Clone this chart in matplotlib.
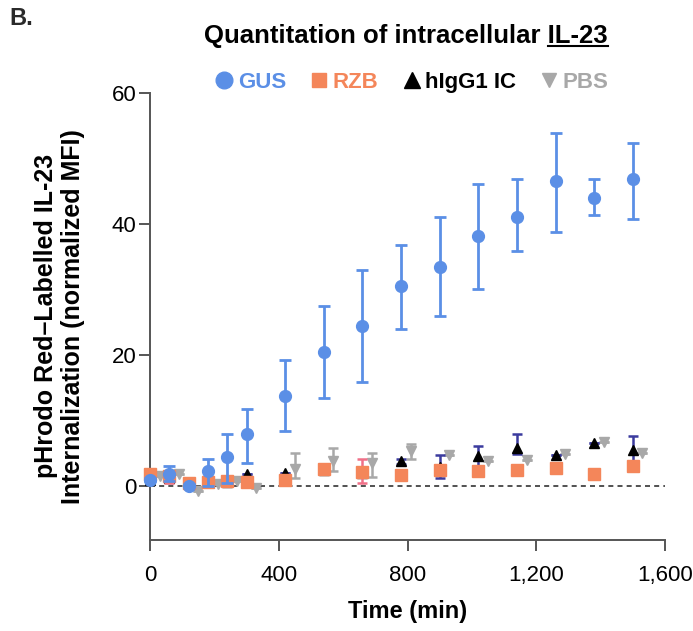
import matplotlib
matplotlib.use('Agg')
import matplotlib.pyplot as plt
from matplotlib.lines import Line2D
from matplotlib.ticker import FuncFormatter
import numpy as np

plt.rcParams['font.family'] = ['Liberation Sans', 'DejaVu Sans']

# time points (min)
time_main = [0, 60, 120, 180, 240, 300, 420, 540, 660, 780, 900, 1020, 1140, 1260, 1380, 1500]
time_pbs = [30, 90, 150, 210, 270, 330, 450, 570, 690, 810, 930, 1050, 1170, 1290, 1410, 1530]

# GUS
gus = [1.0, 1.8, 0.1, 2.3, 4.4, 7.9, 13.7, 20.5, 24.5, 30.5, 33.5, 38.2, 41.1, 46.5, 44.0, 46.8]
gus_hi = [1.2, 3.1, 0.3, 4.2, 7.9, 11.8, 19.2, 27.5, 33.0, 36.8, 41.0, 46.1, 46.8, 53.9, 46.8, 52.3]
gus_lo = [0.8, 0.8, 0.0, 0.0, 0.5, 3.6, 8.4, 13.4, 15.9, 24.0, 26.0, 30.0, 35.8, 38.8, 41.3, 40.7]

# RZB
rzb = [1.8, 1.6, 0.5, 0.6, 0.8, 0.6, 0.9, 2.7, 2.2, 1.7, 2.4, 2.3, 2.5, 2.8, 1.8, 3.1]
rzb_hi = [1.8, 2.0, 0.5, 0.6, 0.8, 0.6, 0.9, 2.7, 4.2, 1.7, 2.4, 2.3, 2.5, 2.8, 1.8, 3.1]
rzb_lo = [1.8, 0.5, 0.5, 0.6, 0.8, 0.6, 0.9, 2.7, 0.5, 1.7, 2.4, 2.3, 2.5, 2.8, 1.8, 3.1]

# hIgG1 IC
higg = [1.0, 1.2, 0.4, 0.6, 0.6, 1.8, 2.0, 2.5, 2.0, 3.8, 3.0, 4.6, 5.8, 4.7, 6.6, 5.5]
higg_hi = [1.0, 1.2, 0.4, 0.6, 1.5, 1.8, 2.0, 2.5, 2.0, 4.2, 4.7, 6.2, 8.0, 4.7, 6.6, 7.6]
higg_lo = [1.0, 1.2, 0.4, 0.6, 0.0, 1.8, 2.0, 2.5, 2.0, 3.4, 1.3, 3.1, 4.9, 4.7, 6.6, 3.4]

# PBS
pbs = [1.6, 1.8, -0.8, 0.3, 0.8, -0.2, 2.6, 3.8, 3.6, 5.4, 4.7, 3.9, 4.0, 4.9, 6.7, 5.1]
pbs_hi = [1.6, 1.8, -0.8, 0.3, 0.8, -0.2, 5.0, 5.9, 5.0, 6.4, 4.7, 3.9, 4.0, 4.9, 6.7, 5.1]
pbs_lo = [1.6, 1.8, -0.8, 0.3, 0.8, -0.2, 1.3, 2.3, 1.4, 4.1, 4.7, 3.9, 4.0, 4.9, 6.7, 5.1]

x_ticks = [0, 400, 800, 1200, 1600]
y_ticks = [0, 20, 40, 60]

c_gus = '#5B8FE6'
c_rzb = '#F4865A'
c_higg = '#000000'
c_pbs = '#A8A8A8'


def yerr(vals, hi, lo):
    v = np.array(vals)
    return [v - np.array(lo), np.array(hi) - v]


fig = plt.figure(figsize=(6.93, 6.31), dpi=100)
ax = fig.add_axes([0.2165, 0.1442, 0.7431, 0.7088])

ax.axhline(0, color='#333333', linestyle=(0, (3, 2.5)), linewidth=1.2, zorder=1)

ax.errorbar(time_pbs, pbs, yerr=yerr(pbs, pbs_hi, pbs_lo), fmt='v', color=c_pbs,
            ecolor=c_pbs, ms=7.5, elinewidth=1.8, capsize=3.5, capthick=1.8,
            clip_on=False, zorder=2)
ax.errorbar(time_main, higg, yerr=yerr(higg, higg_hi, higg_lo), fmt='^', color=c_higg,
            ecolor='#3B3B9E', ms=7.5, elinewidth=1.8, capsize=3.5, capthick=1.8,
            clip_on=False, zorder=3)
ax.errorbar(time_main, rzb, yerr=yerr(rzb, rzb_hi, rzb_lo), fmt='s', color=c_rzb,
            ecolor='#F07088', ms=8.5, elinewidth=1.8, capsize=3.5, capthick=1.8,
            clip_on=False, zorder=4)
ax.errorbar(time_main, gus, yerr=yerr(gus, gus_hi, gus_lo), fmt='o', color=c_gus,
            ecolor=c_gus, ms=8.5, elinewidth=2.0, capsize=4, capthick=2.0,
            clip_on=False, zorder=5)

ax.set_xlim(0, 1600)
ax.set_ylim(-8.2, 60)
ax.set_xticks(x_ticks)
ax.set_yticks(y_ticks)
ax.xaxis.set_major_formatter(FuncFormatter(lambda v, p: f'{int(v):,}'))

for s in ['top', 'right']:
    ax.spines[s].set_visible(False)
for s in ['left', 'bottom']:
    ax.spines[s].set_linewidth(1.4)
    ax.spines[s].set_color('#555555')

ax.tick_params(axis='x', length=8, width=1.4, color='#555555', labelsize=16, pad=10)
ax.tick_params(axis='y', length=8, width=1.4, color='#555555', labelsize=16, pad=2)

ax.set_xlabel('Time (min)', fontsize=17, fontweight='bold', labelpad=10)
ax.set_ylabel('pHrodo Red\u2013Labelled IL-23\nInternalization (normalized MFI)',
              fontsize=18, fontweight='bold', labelpad=19, linespacing=1.15)

# panel letter
fig.text(0.014, 0.971, 'B.', fontsize=17, fontweight='bold', color='#2a2a2a',
         ha='left', va='center')

# title with underlined IL-23
title = fig.text(0.586, 0.943, 'Quantitation of intracellular IL-23', fontsize=18.5,
                 fontweight='bold', ha='center', va='center')
fig.canvas.draw()
r = fig.canvas.get_renderer()
tb = title.get_window_extent(r)
tmp = fig.text(0, 0, 'IL-23', fontsize=18.5, fontweight='bold')
w = tmp.get_window_extent(r).width
tmp.remove()
fw, fh = fig.bbox.width, fig.bbox.height
uy = (tb.y0 + 2) / fh
fig.add_artist(Line2D([(tb.x1 - w) / fw, tb.x1 / fw], [uy, uy], color='black', lw=1.5))

# legend
handles = [
    Line2D([], [], marker='o', ls='', color=c_gus, ms=12),
    Line2D([], [], marker='s', ls='', color=c_rzb, ms=10.5),
    Line2D([], [], marker='^', ls='', color=c_higg, ms=11),
    Line2D([], [], marker='v', ls='', color=c_pbs, ms=10),
]
labels = ['GUS', 'RZB', 'hIgG1 IC', 'PBS']
leg = fig.legend(handles, labels, loc='center', bbox_to_anchor=(0.593, 0.87), ncol=4,
                 frameon=False, handletextpad=0.1, columnspacing=1.0, handlelength=1.0,
                 prop={'weight': 'bold', 'size': 16})
for txt, col in zip(leg.get_texts(), [c_gus, c_rzb, c_higg, c_pbs]):
    txt.set_color(col)

fig.savefig('out.png', dpi=100)
